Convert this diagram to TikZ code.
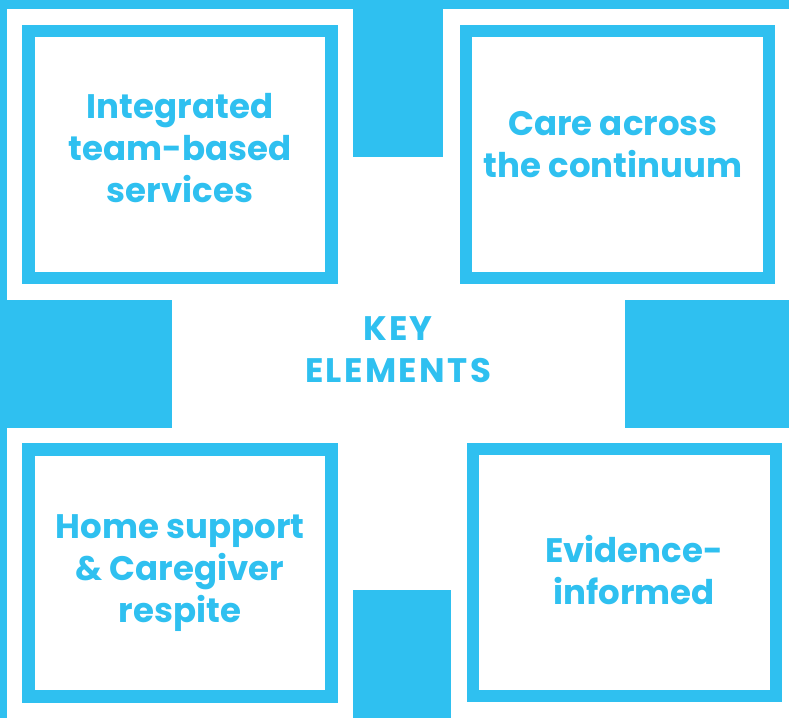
\documentclass[tikz,border=0pt]{standalone}
\usepackage{fontspec}
\setmainfont{Poppins}
\usepackage{tikz}
\usetikzlibrary{positioning}
\definecolor{keyblue}{RGB}{47,192,240}

\begin{document}
\begin{tikzpicture}[x=1pt,y=-1pt]
		\fontsize{34}{42}\selectfont\bfseries
		\tikzstyle{frame_block} = [draw=keyblue, line width=12.5pt, rectangle, inner sep=0, minimum width=303pt, minimum height=247pt];
		\tikzstyle{label_block} = [text=keyblue, align=center, inner sep=0];
		\tikzstyle{bar} = [fill=keyblue, draw=none];

		\useasboundingbox (0,0) rectangle (789,718);

		% bars round the frames
		\fill[bar] (0,0) rectangle (789,9);
		\fill[bar] (0,0) rectangle (7,300);
		\fill[bar] (353,0) rectangle (443,157);
		\fill[bar] (0,300) rectangle (172,428);
		\fill[bar] (0,428) rectangle (7,718);
		\fill[bar] (625,300) rectangle (789,428);
		\fill[bar] (353,590) rectangle (451,718);

		\node[frame_block] (team) at (180,154.5) {};
		\node[frame_block] (care) at (617.5,154.5) {};
		\node[frame_block] (home) at (180,573) {};
		\node[frame_block] (evid) at (624.5,572.5) {};

		\node[label_block] (teamtxt) at (180,148) {Integrated\\team-based\\services};
		\node[label_block] (caretxt) at (613,145) {Care across\\the continuum};
		\node[label_block, font=\addfontfeatures{LetterSpace=7}] (key) at (398,350) {KEY\\ELEMENTS};
		\node[label_block] (hometxt) at (180,573) {Home support\\\& Caregiver\\respite};
		\node[label_block] (evidtxt) at (634,570) {Evidence-\\informed};
	\end{tikzpicture}
\end{document}
